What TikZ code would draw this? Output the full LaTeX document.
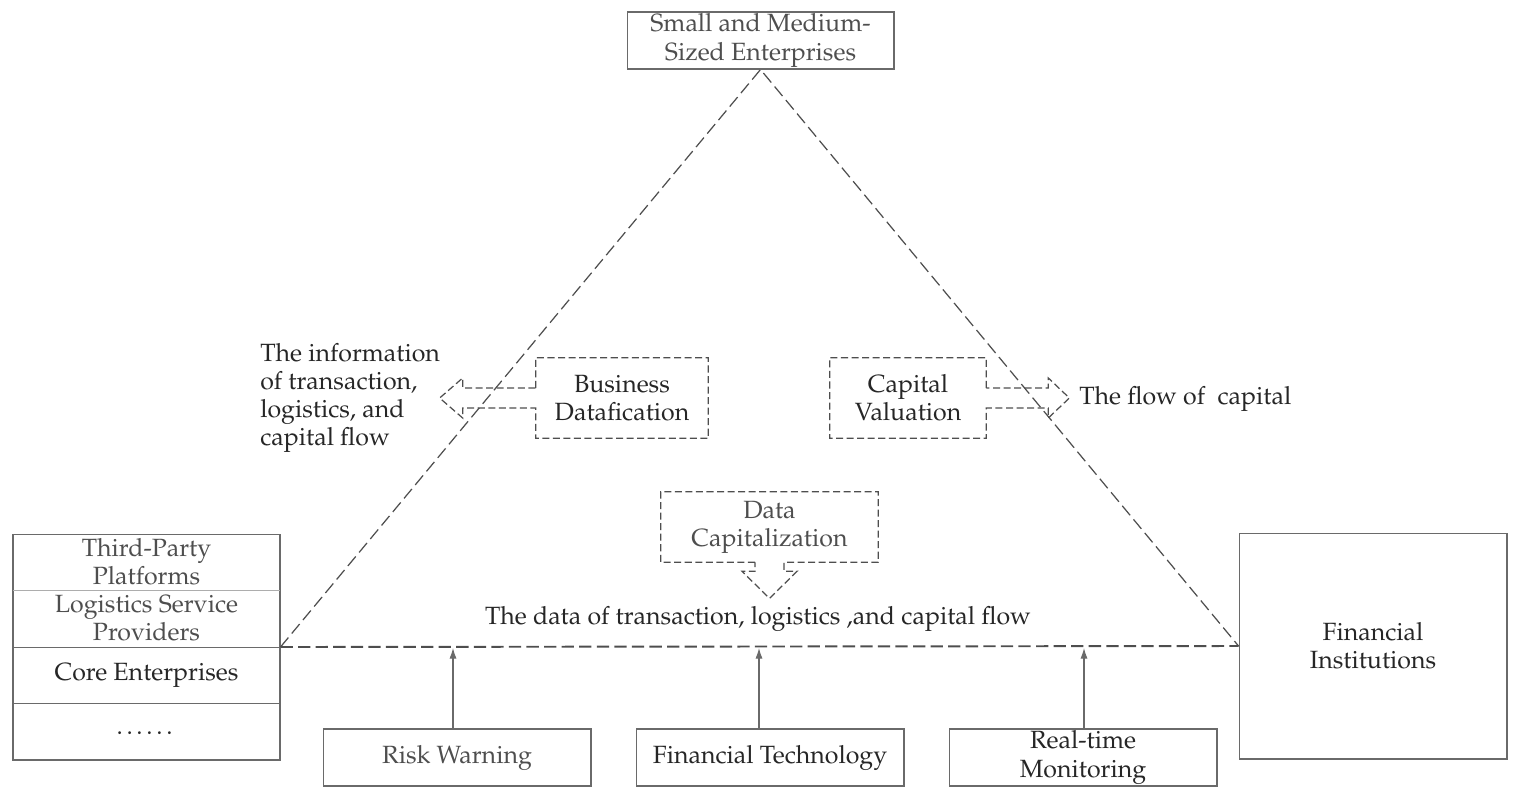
\documentclass[tikz,border=0pt]{standalone}
\usepackage[T1]{fontenc}
\usepackage{mathpazo}
\usetikzlibrary{arrows.meta,calc}
\definecolor{ink}{HTML}{262626}
\definecolor{inkl}{HTML}{4E4E4E}
\definecolor{rule}{HTML}{6A6A6A}

\begin{document}
\begin{tikzpicture}[x=0.02cm,y=-0.02cm,
  font=\fontsize{14.2}{16}\selectfont,
  box/.style={draw=rule,line width=0.6pt,inner sep=0pt,align=center,text=ink},
  cell/.style={inner sep=0pt,align=center,text=ink},
  dline/.style={draw=inkl,line width=0.7pt,dash pattern=on 4pt off 2pt},
  tri/.style={draw=inkl,line width=0.7pt,dash pattern=on 7pt off 3pt},
  up/.style={draw=rule,line width=0.6pt,-{Latex[length=6pt,width=4pt]}}]
\useasboundingbox (0,0) rectangle (1523,798);

% the three parties
\node[box,text=inkl,minimum width=5.34cm,minimum height=1.14cm] (sme) at (760.5,40.5) {Small and Medium-\\Sized Enterprises};
\node[box,minimum width=5.34cm,minimum height=4.52cm] (lb) at (146.5,647) {};
\node[box,minimum width=5.36cm,minimum height=4.52cm] (fi) at (1373,646) {Financial\\Institutions};
\draw[rule!55] (13,590) -- (280,590);
\draw[rule] (13,647) -- (280,647);
\draw[rule] (13,703) -- (280,703);
\node[cell,text=inkl] (tpp) at (146.5,562) {Third-Party\\Platforms};
\node[cell,text=inkl] (lsp) at (146.5,618) {Logistics Service\\Providers};
\node[cell] (ce) at (146.5,675) {Core Enterprises};
\node[cell] (etc) at (146.5,733) {\textellipsis\textellipsis};

% triangle
\coordinate (bl) at (lb.east);
\coordinate (br) at (fi.west);
\draw[tri] (bl) -- (sme.south) -- (br);
\draw[tri,line width=1.1pt] (bl) -- (br);

% supporting tools
\node[box,text=inkl,minimum width=5.36cm,minimum height=1.14cm] (rw) at (457,757.5) {Risk Warning};
\node[box,minimum width=5.36cm,minimum height=1.14cm] (ft) at (770,757.5) {Financial Technology};
\node[box,minimum width=5.36cm,minimum height=1.14cm] (rtm) at (1083,757.5) {Real-time\\Monitoring};
\draw[up] ($(rw.north)+(-4,0)$) -- ($(rw.north |- bl)+(-4,1)$);
\draw[up] ($(ft.north)+(-11,0)$) -- ($(ft.north |- bl)+(-11,1)$);
\draw[up] ($(rtm.north)+(1,0)$) -- ($(rtm.north |- bl)+(1,1)$);

% datafication -> information
\node[cell,minimum width=3.44cm,minimum height=1.6cm] (bd) at (622,398) {Business\\Datafication};
\draw[dline] ($(bd.west)+(0,-10)$) |- (bd.north east) -- (bd.south east) -- (bd.south west)
  -- ($(bd.west)+(0,10)$) -- ++(-73,0) -- ++(0,10) -- ($(bd.west)+(-96,0)$)
  -- ($(bd.west)+(-73,-20)$) -- ++(0,10) -- cycle;
\node[anchor=west,align=left,inner sep=0pt,text=ink] (info) at (260,398) {The information\\of transaction,\\logistics, and\\capital flow};

% valuation -> capital
\node[cell,minimum width=3.12cm,minimum height=1.6cm] (cv) at (908,398) {Capital\\Valuation};
\draw[dline] ($(cv.east)+(0,-10)$) |- (cv.north west) -- (cv.south west) -| ($(cv.east)+(0,10)$)
  -- ++(62,0) -- ++(0,10) -- ($(cv.east)+(83,0)$) -- ($(cv.east)+(62,-20)$) -- ++(0,10) -- cycle;
\node[anchor=west,inner sep=0pt,text=ink] (flow) at (1079,399) {The flow of~ capital};

% capitalization -> data
\node[cell,text=inkl,minimum width=4.34cm,minimum height=1.4cm] (dc) at (769.5,527) {Data\\Capitalization};
\draw[dline] ($(dc.south)+(-14.5,0)$) -| (dc.north west) -- (dc.north east) -- (dc.south east)
  -- ($(dc.south)+(14.5,0)$) -- ++(0,9) -- ++(13,0) -- ($(dc.south)+(0,36)$)
  -- ($(dc.south)+(-27.5,9)$) -- ++(13,0) -- cycle;
\node[cell] (data) at (758,619) {The data of transaction, logistics ,and capital flow};
\end{tikzpicture}
\end{document}
